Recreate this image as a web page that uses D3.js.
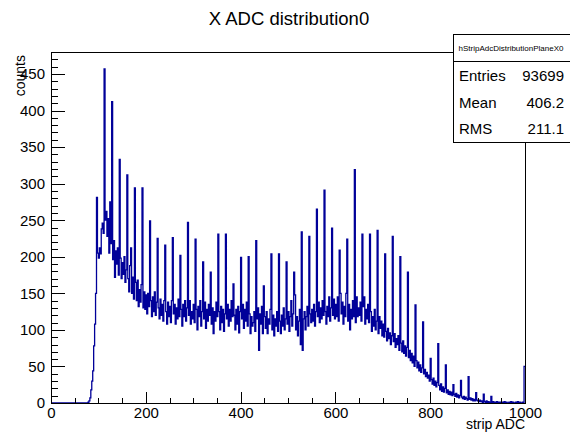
<!DOCTYPE html>
<html>
<head>
<meta charset="utf-8">
<script src="https://cdn.jsdelivr.net/npm/d3@7/dist/d3.min.js"></script>
<style>
body { margin: 0; background: #fff; }
text { font-family: "Liberation Sans", Arial, Helvetica, sans-serif; fill: #000; }
</style>
</head>
<body>
<div id="chart"></div>
<script>
// bin contents of hStripAdcDistributionPlaneX0, 2 ADC per bin, rows of 50 ADC
const binWidth = 2;
const counts = [
    0, 0, 0, 0, 0, 0, 0, 0, 0, 0, 0, 0, 0, 0, 0, 0, 0, 0, 0, 0, 0, 0, 0, 0, 0,                       // 0-48
    0, 0, 0, 0, 0, 0, 0, 0, 0, 0, 0, 0, 0, 0, 1, 3, 7, 18, 30, 44, 78, 108, 150, 281, 205,           // 50-98
    198, 212, 204, 238, 246, 232, 457, 250, 262, 228, 252, 205, 275, 218, 412, 196, 222, 172, 208, 190, 212, 175, 333, 198, 170, // 100-148
    192, 176, 200, 165, 182, 312, 170, 152, 188, 212, 150, 172, 142, 294, 165, 140, 168, 132, 155, 138, 162, 294, 130, 152, 128, // 150-198
    148, 122, 150, 132, 249, 140, 118, 145, 125, 152, 120, 138, 225, 130, 115, 142, 120, 135, 112, 140, 216, 125, 108, 138, 118, // 200-248
    132, 110, 140, 226, 122, 135, 108, 130, 115, 142, 118, 202, 128, 105, 135, 118, 140, 112, 130, 247, 120, 140, 108, 125, 115, // 250-298
    135, 110, 224, 128, 100, 132, 118, 140, 105, 125, 193, 115, 138, 102, 128, 112, 135, 120, 179, 108, 130, 95, 125, 112, 138,  // 300-348
    118, 231, 125, 100, 132, 110, 128, 98, 122, 231, 115, 135, 105, 128, 112, 140, 118, 163, 120, 100, 128, 108, 132, 96, 125,   // 350-398
    199, 115, 135, 102, 128, 112, 138, 105, 200, 122, 95, 118, 105, 110, 125, 98, 222, 115, 130, 72, 122, 108, 132, 95, 160,     // 400-448
    118, 102, 125, 95, 115, 108, 128, 204, 100, 120, 92, 115, 105, 125, 98, 204, 112, 95, 120, 105, 130, 100, 115, 193, 108,     // 450-498
    125, 98, 118, 140, 105, 122, 179, 148, 100, 118, 92, 112, 128, 80, 234, 72, 115, 125, 100, 118, 132, 105, 228, 122, 110,     // 500-548
    128, 112, 135, 105, 125, 265, 118, 138, 110, 130, 115, 140, 120, 291, 125, 108, 132, 118, 145, 112, 130, 239, 120, 142, 115, // 550-598
    135, 118, 145, 112, 209, 150, 122, 138, 108, 132, 118, 150, 224, 112, 135, 100, 128, 115, 140, 118, 319, 110, 145, 118, 130, // 600-648
    120, 138, 112, 231, 132, 145, 108, 128, 115, 135, 110, 231, 125, 98, 118, 105, 128, 100, 112, 236, 95, 118, 102, 112, 92,    // 650-698
    108, 90, 204, 98, 85, 102, 88, 96, 80, 92, 228, 84, 95, 76, 88, 80, 92, 72, 200, 82, 70, 85, 68, 78, 64,                     // 700-748
    76, 179, 62, 72, 58, 68, 55, 64, 50, 134, 58, 48, 56, 44, 52, 42, 48, 111, 40, 46, 36, 42, 34, 38, 30,                       // 750-798
    61, 32, 26, 34, 24, 30, 22, 28, 81, 24, 18, 26, 16, 22, 15, 20, 52, 14, 18, 12, 16, 11, 15, 10, 25,                          // 800-848
    12, 9, 13, 8, 11, 7, 10, 31, 8, 6, 9, 5, 8, 6, 4, 36, 5, 7, 4, 6, 3, 5, 3, 14, 4,                                            // 850-898
    3, 2, 4, 2, 3, 1, 12, 2, 1, 3, 1, 2, 1, 0, 9, 1, 2, 1, 0, 1, 2, 0, 1, 0, 1,                                                  // 900-948
    0, 1, 0, 2, 0, 1, 0, 0, 1, 0, 2, 0, 1, 0, 0, 1, 0, 2, 0, 1, 0, 0, 1, 0, 50                                                   // 950-998
];

const xDomain = [0, 1000];
const yDomain = [0, 480];
const xMajorTicks = [0, 200, 400, 600, 800, 1000];
const xMinorTicks = [50, 100, 150, 250, 300, 350, 450, 500, 550, 650, 700, 750, 850, 900, 950];
const yMajorTicks = [0, 50, 100, 150, 200, 250, 300, 350, 400, 450];
const yMinorTicks = [10, 20, 30, 40, 60, 70, 80, 90, 110, 120, 130, 140, 160, 170, 180, 190, 210, 220, 230, 240,
    260, 270, 280, 290, 310, 320, 330, 340, 360, 370, 380, 390, 410, 420, 430, 440, 460, 470];

const titleText = 'X ADC distribution0';
const xTitle = 'strip ADC';
const yTitle = 'counts';
const statsName = 'hStripAdcDistributionPlaneX0';
const statsLabels = ['Entries', 'Mean', 'RMS'];
const statsValues = ['93699', '406.2', '211.1'];

const width = 570;
const height = 432;
const frame = {left: 51, right: 525, top: 52, bottom: 403};
const lineColor = '#000099';

const svg = d3.select('#chart')
.append('svg')
.attr('width', width)
.attr('height', height);

const x = d3.scaleLinear().domain(xDomain).range([frame.left, frame.right]);
const y = d3.scaleLinear().domain(yDomain).range([frame.bottom, frame.top]);

// title
svg.append('text')
.attr('x', 289)
.attr('y', 25)
.attr('text-anchor', 'middle')
.style('font-size', '18.5px')
.text(titleText);

// histogram outline (step)
const steps = counts.map((c, i) => ({edge: i * binWidth, c}));
steps.push({edge: counts.length * binWidth, c: counts[counts.length - 1]});

const line = d3.line()
.x((d) => x(d.edge))
.y((d) => y(d.c))
.curve(d3.curveStepAfter);

svg.append('path')
.datum(steps)
.attr('fill', 'none')
.attr('stroke', lineColor)
.attr('stroke-width', 1.3)
.attr('d', line);

// axes, ticks inside the frame
const axisX = svg.append('g').attr('transform', `translate(0,${frame.bottom})`);
axisX.call(d3.axisBottom(x).tickValues(xMinorTicks).tickSizeInner(-5.5).tickSizeOuter(0).tickFormat(''));
axisX.call((g) => g.select('.domain').remove());
const axisXMaj = svg.append('g').attr('transform', `translate(0,${frame.bottom})`);
axisXMaj.call(d3.axisBottom(x).tickValues(xMajorTicks).tickSizeInner(-11).tickSizeOuter(0).tickPadding(4).tickFormat(d3.format('d')));
axisXMaj.call((g) => g.select('.domain').remove());

const axisY = svg.append('g').attr('transform', `translate(${frame.left},0)`);
axisY.call(d3.axisLeft(y).tickValues(yMinorTicks).tickSizeInner(-7).tickSizeOuter(0).tickFormat(''));
axisY.call((g) => g.select('.domain').remove());
const axisYMaj = svg.append('g').attr('transform', `translate(${frame.left},0)`);
axisYMaj.call(d3.axisLeft(y).tickValues(yMajorTicks).tickSizeInner(-14).tickSizeOuter(0).tickPadding(6).tickFormat(d3.format('d')));
axisYMaj.call((g) => g.select('.domain').remove());

svg.selectAll('.tick line').attr('stroke', '#000').attr('shape-rendering', 'crispEdges');
svg.selectAll('.tick text')
.style('font-size', '15px')
.style('font-family', '"Liberation Sans", Arial, Helvetica, sans-serif')
.attr('fill', '#000');

// frame
svg.append('rect')
.attr('x', frame.left + 0.5)
.attr('y', frame.top + 0.5)
.attr('width', frame.right - frame.left)
.attr('height', frame.bottom - frame.top)
.attr('fill', 'none')
.attr('stroke', '#000')
.attr('shape-rendering', 'crispEdges');

// axis titles
svg.append('text')
.attr('x', frame.right)
.attr('y', 429)
.attr('text-anchor', 'end')
.style('font-size', '14px')
.text(xTitle);

svg.append('text')
.attr('transform', `translate(25,${frame.top + 3}) rotate(-90)`)
.attr('text-anchor', 'end')
.style('font-size', '14px')
.text(yTitle);

// stats box
const stats = svg.append('g');
stats.append('rect')
.attr('x', 453.5)
.attr('y', 34.5)
.attr('width', 130)
.attr('height', 108)
.attr('fill', '#fff')
.attr('stroke', '#000')
.attr('shape-rendering', 'crispEdges');
stats.append('line')
.attr('x1', 453.5).attr('x2', 570)
.attr('y1', 61.5).attr('y2', 61.5)
.attr('stroke', '#000')
.attr('shape-rendering', 'crispEdges');
stats.append('text')
.attr('x', 511)
.attr('y', 51)
.attr('text-anchor', 'middle')
.style('font-size', '8px')
.text(statsName);

statsLabels.forEach((lab, i) => {
    const yy = 81 + i * 26.7;
    stats.append('text').attr('x', 459).attr('y', yy).style('font-size', '15px').text(lab);
    stats.append('text').attr('x', 564).attr('y', yy).attr('text-anchor', 'end').style('font-size', '15px').text(statsValues[i]);
});
</script>
</body>
</html>
